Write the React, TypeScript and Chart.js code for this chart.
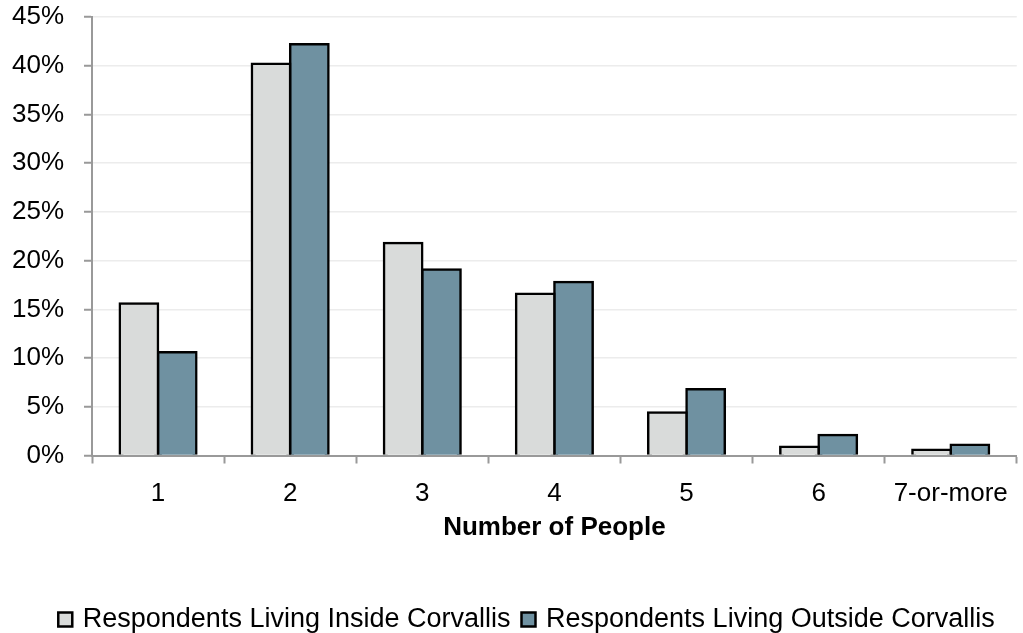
import React, { useEffect, useRef } from "react";
import { Chart, registerables } from "chart.js";

Chart.register(...registerables);

const categories = ["1", "2", "3", "4", "5", "6", "7-or-more"];
const insideValues = [15.6, 40.2, 21.8, 16.6, 4.4, 0.9, 0.6];
const outsideValues = [10.6, 42.2, 19.1, 17.8, 6.8, 2.1, 1.1];
const seriesNames = [
  "Respondents Living Inside Corvallis",
  "Respondents Living Outside Corvallis",
];
const yTicks = [0, 5, 10, 15, 20, 25, 30, 35, 40, 45];
const xTitle = "Number of People";

const FONT = "'Liberation Sans', Arial, sans-serif";

const legendShift = {
  id: "legendShift",
  afterLayout(chart: any) {
    const lg = chart.legend;
    if (lg) {
      lg.left += 18;
      lg.right += 18;
    }
  },
};

export default function App() {
  const ref = useRef<HTMLCanvasElement | null>(null);

  useEffect(() => {
    if (!ref.current) return;
    const chart = new Chart(ref.current, {
      type: "bar",
      data: {
        labels: categories,
        datasets: [
          {
            label: seriesNames[0],
            data: insideValues,
            backgroundColor: "#d9dbda",
            borderColor: "#000000",
            borderWidth: 2.5,
            inflateAmount: 1.25,
            borderSkipped: "bottom",
          },
          {
            label: seriesNames[1],
            data: outsideValues,
            backgroundColor: "#6f91a1",
            borderColor: "#000000",
            borderWidth: 2.5,
            inflateAmount: 1.25,
            borderSkipped: "bottom",
          },
        ],
      },
      plugins: [legendShift],
      options: {
        responsive: false,
        animation: false,
        devicePixelRatio: 1,
        events: [],
        layout: { padding: { left: 0, right: 3, top: 17, bottom: -10 } },
        datasets: {
          bar: { barPercentage: 1, categoryPercentage: 0.58 },
        },
        plugins: {
          tooltip: { enabled: false },
          legend: {
            position: "bottom",
            labels: {
              font: { family: FONT, size: 27 },
              color: "#000000",
              usePointStyle: true,
              pointStyle: "rect",
              boxWidth: 8,
              boxHeight: 14,
              padding: 14,
            },
          },
        },
        scales: {
          x: {
            afterFit: (s: any) => {
              s.height = 136.5;
            },
            grid: {
              drawOnChartArea: false,
              drawTicks: true,
              tickLength: 8,
              tickWidth: 2,
              tickColor: "#999999",
              offset: true,
            },
            border: { color: "#999999", width: 2 },
            ticks: {
              font: { family: FONT, size: 26 },
              color: "#000000",
              padding: 15,
              maxRotation: 0,
              autoSkip: false,
            },
            title: {
              display: true,
              text: xTitle,
              font: { family: FONT, size: 26, weight: "bold" },
              color: "#000000",
              padding: { top: 0, bottom: 49 },
            },
          },
          y: {
            min: 0,
            max: 45,
            afterFit: (s: any) => {
              s.width = 92;
              s.paddingTop = 0;
              s.paddingBottom = 0;
            },
            afterBuildTicks: (s: any) => {
              s.ticks = yTicks.map((v) => ({ value: v }));
            },
            grid: {
              color: "#ececec",
              lineWidth: 1.5,
              drawTicks: true,
              tickLength: 8,
              tickWidth: 2,
              tickColor: "#999999",
            },
            border: { color: "#999999", width: 2 },
            ticks: {
              font: { family: FONT, size: 26 },
              color: "#000000",
              padding: 20,
              callback: (v: any) => `${v}%`,
            },
          },
        },
      },
    });
    return () => chart.destroy();
  }, []);

  return (
    <div style={{ position: "absolute", left: 0, top: 0, width: 1023, height: 633, background: "#fff" }}>
      <canvas ref={ref} width={1023} height={633} style={{ display: "block" }} />
    </div>
  );
}
